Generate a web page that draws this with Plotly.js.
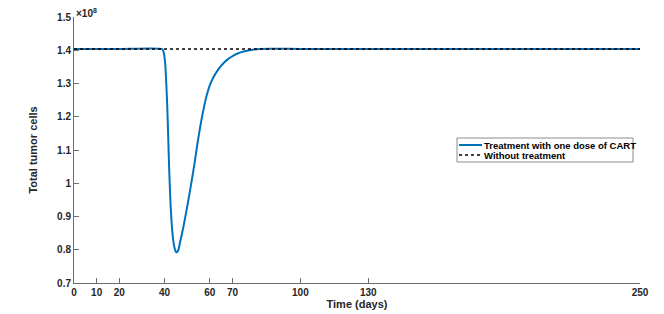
<!DOCTYPE html>
<html>
<head>
<meta charset="utf-8">
<script src="https://cdn.plot.ly/plotly-3.0.1.min.js"></script>
<style>html,body{margin:0;padding:0;background:#fff;overflow:hidden;}#chart{width:664px;height:314px;}</style>
</head>
<body>
<div id="chart"></div>
<script>
// Time in days, tumor cells in units of 1e8
const treatDays = [0, 20, 38.8, 39.3, 39.75, 40.3, 40.77, 41.2, 41.65, 42.1, 42.7, 43.3, 43.86, 44.4, 44.9, 45.36, 45.8, 46.3, 46.8, 47.5, 48.3, 49.8, 51.1, 52.4, 53.5, 54.64, 55.7, 56.67, 57.5, 58.3, 59.2, 60.0, 61.53, 63.0, 64.49, 66.3, 68.15, 70.4, 72.57, 75.0, 76.99, 79.5, 82.0, 100, 130, 250];
const treatCells = [1.404, 1.404, 1.404, 1.400, 1.389, 1.359, 1.298, 1.230, 1.130, 1.030, 0.930, 0.865, 0.827, 0.806, 0.795, 0.792, 0.795, 0.804, 0.822, 0.842, 0.868, 0.922, 0.972, 1.024, 1.072, 1.124, 1.168, 1.204, 1.232, 1.256, 1.278, 1.295, 1.318, 1.335, 1.349, 1.363, 1.374, 1.384, 1.391, 1.396, 1.399, 1.402, 1.404, 1.404, 1.404, 1.404];
const noTreatDays = [0, 250];
const noTreatCells = [1.404, 1.404];
const xTicks = [0, 10, 20, 40, 60, 70, 100, 130, 250];
const yTicks = [0.7, 0.8, 0.9, 1.0, 1.1, 1.2, 1.3, 1.4, 1.5];
const yTickText = ['0.7', '0.8', '0.9', '1', '1.1', '1.2', '1.3', '1.4', '1.5'];
const seriesNames = ['Treatment with one dose of CART', 'Without treatment'];
const seriesColors = ['#0072BD', '#000000'];
const seriesDash = ['solid', 'dot'];

const fam = 'Liberation Sans, Arial, sans-serif';
const tickFont = {family: fam, size: 10, color: '#262626', weight: 'bold'};
const titleFont = {family: fam, size: 11, color: '#262626', weight: 'bold'};

const traces = [
  {x: treatDays, y: treatCells, type: 'scatter', mode: 'lines', name: seriesNames[0],
   line: {color: seriesColors[0], width: 2, shape: 'spline', smoothing: 0.6}},
  {x: noTreatDays, y: noTreatCells, type: 'scatter', mode: 'lines', name: seriesNames[1],
   line: {color: seriesColors[1], width: 1.5, dash: 'dot'}}
];

// Plot area in pixels: left 74, right 640, top 17, bottom 283
const L = 74, R = 640, T = 17, B = 283;
const px = v => (v - L) / (R - L);
const py = v => (B - v) / (B - T);

// custom legend (box, line samples, labels)
const legBox = {x0: 457, x1: 633, y0: 138, y1: 162};
const legRows = [145, 155];
const shapes = [
  {type: 'rect', xref: 'paper', yref: 'paper', x0: px(legBox.x0), x1: px(legBox.x1), y0: py(legBox.y1), y1: py(legBox.y0),
   line: {color: '#8c8c8c', width: 1}, fillcolor: '#ffffff', layer: 'above'}
];
const annotations = [
  {xref: 'paper', yref: 'paper', x: 0, y: 1, xanchor: 'left', yanchor: 'bottom', showarrow: false,
   text: '×10<sup>8</sup>', font: {family: fam, size: 10, color: '#262626'}, yshift: -4}
];
seriesNames.forEach((name, i) => {
  shapes.push({type: 'line', xref: 'paper', yref: 'paper', x0: px(459), x1: px(482), y0: py(legRows[i]), y1: py(legRows[i]),
    line: {color: seriesColors[i], width: i === 0 ? 2 : 1.5, dash: seriesDash[i]}, layer: 'above'});
  annotations.push({xref: 'paper', yref: 'paper', x: px(484), y: py(legRows[i]), xanchor: 'left', yanchor: 'middle',
    showarrow: false, text: name, font: {family: fam, size: 9.5, color: '#000', weight: 'bold'}, xshift: -2});
});

const layout = {
  width: 664, height: 314,
  margin: {l: L, r: 664 - R, t: T, b: 314 - B, autoexpand: false},
  paper_bgcolor: '#fff', plot_bgcolor: '#fff',
  font: tickFont,
  showlegend: false,
  xaxis: {range: [0, 250], tickmode: 'array', tickvals: xTicks, ticktext: xTicks.map(String),
    ticks: 'inside', ticklen: 5, tickcolor: '#6e6e6e', showline: true, linecolor: '#6e6e6e', linewidth: 1,
    showgrid: false, zeroline: false, tickfont: tickFont, automargin: false,
    title: {text: 'Time (days)', font: titleFont, standoff: 1}},
  yaxis: {range: [0.7, 1.5], tickmode: 'array', tickvals: yTicks, ticktext: yTickText,
    ticks: 'inside', ticklen: 5, tickcolor: '#6e6e6e', showline: true, linecolor: '#6e6e6e', linewidth: 1,
    showgrid: false, zeroline: false, tickfont: tickFont, automargin: false,
    title: {text: 'Total tumor cells', font: titleFont, standoff: 17}},
  shapes: shapes,
  annotations: annotations
};

Plotly.newPlot('chart', traces, layout, {displayModeBar: false, staticPlot: true});
</script>
</body>
</html>
